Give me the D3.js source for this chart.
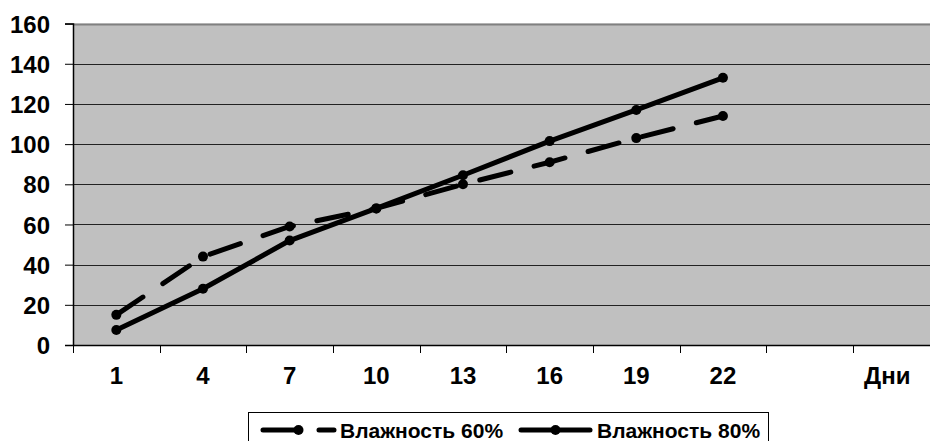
<!DOCTYPE html>
<html>
<head>
<meta charset="utf-8">
<script src="https://cdn.jsdelivr.net/npm/d3@7/dist/d3.min.js"></script>
<style>
  body { margin: 0; background: #fff; }
  svg { display: block; }
  text { font-family: "Liberation Sans", Arial, sans-serif; font-weight: bold; fill: #000; }
</style>
</head>
<body>
<svg width="930" height="441"></svg>
<script>
const width = 930;
const height = 441;

// categories on the x axis (last two are the empty slot and the axis title)
const days = ["1", "4", "7", "10", "13", "16", "19", "22", "", "Дни"];
const seriesNames = ["Влажность 60%", "Влажность 80%"];
const humidity60 = [15, 44, 59, 68, 80, 91, 103, 114];
const humidity80 = [7.5, 28, 52, 68, 84.5, 101.5, 117, 133];
const yTicks = [0, 20, 40, 60, 80, 100, 120, 140, 160];

const svg = d3.select("svg");

const plotLeft = 73;
const plotTop = 23.6;
const plotBottom = 345;
const bandW = 86.66;

const x = d3
  .scaleBand()
  .domain(days)
  .range([plotLeft, plotLeft + bandW * days.length]);

const y = d3.scaleLinear().domain([0, 160]).range([plotBottom, plotTop]);

// plot background
svg
  .append("rect")
  .attr("x", plotLeft)
  .attr("y", plotTop)
  .attr("width", x.range()[1] - plotLeft)
  .attr("height", plotBottom - plotTop)
  .attr("fill", "#c0c0c0");

// gridlines
svg
  .append("g")
  .selectAll("line")
  .data(yTicks.slice(1))
  .enter()
  .append("line")
  .attr("x1", plotLeft)
  .attr("x2", x.range()[1])
  .attr("y1", (d) => Math.round(y(d)) + 0.5)
  .attr("y2", (d) => Math.round(y(d)) + 0.5)
  .attr("stroke", (d) => (d === 160 ? "#808080" : "#222"))
  .attr("stroke-width", (d) => (d === 160 ? 2 : 1));

// y axis
const yAxis = svg
  .append("g")
  .attr("transform", `translate(${plotLeft},0)`)
  .call(d3.axisLeft(y).tickValues(yTicks).tickSize(8).tickPadding(15));
yAxis.select(".domain").attr("stroke", "#000").attr("stroke-width", 1.5);
yAxis.selectAll(".tick line").attr("stroke", "#000");
yAxis.selectAll("text").style("font-size", "24px").attr("fill", "#000").attr("dy", "0.36em");

// x axis: labels at band centers, ticks at band edges
const xAxis = svg
  .append("g")
  .attr("transform", `translate(0,${plotBottom})`)
  .call(d3.axisBottom(x).tickSize(0).tickPadding(39));
xAxis.select(".domain").attr("stroke", "#000").attr("stroke-width", 1.5);
xAxis.selectAll("text").style("font-size", "24px").attr("fill", "#000").attr("dy", 0);
xAxis
  .selectAll(".tick")
  .filter((d) => d === "Дни")
  .select("text")
  .attr("dx", -9);

svg
  .append("g")
  .selectAll("line")
  .data(days)
  .enter()
  .append("line")
  .attr("x1", (d) => Math.round(x(d)) + 0.5)
  .attr("x2", (d) => Math.round(x(d)) + 0.5)
  .attr("y1", plotBottom)
  .attr("y2", plotBottom + 8)
  .attr("stroke", "#000");

const line = d3
  .line()
  .x((d, i) => x(days[i]) + x.bandwidth() / 2)
  .y((d) => y(d));

const series = [
  { name: seriesNames[0], values: humidity60, dash: "32,24" },
  { name: seriesNames[1], values: humidity80, dash: null },
];

series.forEach((s) => {
  svg
    .append("path")
    .datum(s.values)
    .attr("d", line)
    .attr("fill", "none")
    .attr("stroke", "#000")
    .attr("stroke-width", 5)
    .attr("stroke-linecap", "round")
    .attr("stroke-linejoin", "round")
    .attr("stroke-dasharray", s.dash);

  svg
    .append("g")
    .selectAll("circle")
    .data(s.values)
    .enter()
    .append("circle")
    .attr("cx", (d, i) => x(days[i]) + x.bandwidth() / 2)
    .attr("cy", (d) => y(d))
    .attr("r", 5)
    .attr("fill", "#000");
});

// legend
const legend = svg.append("g");
legend
  .append("rect")
  .attr("x", 248.5)
  .attr("y", 412.5)
  .attr("width", 520)
  .attr("height", 40)
  .attr("fill", "#fff")
  .attr("stroke", "#000");

const legendItems = [
  { x0: 263, x1: 334, dash: "32,24", textX: 340 },
  { x0: 521, x1: 590, dash: null, textX: 597 },
];

legendItems.forEach((it, i) => {
  legend
    .append("line")
    .attr("x1", it.x0)
    .attr("x2", it.x1)
    .attr("y1", 430)
    .attr("y2", 430)
    .attr("stroke", "#000")
    .attr("stroke-width", 5)
    .attr("stroke-linecap", "round")
    .attr("stroke-dasharray", it.dash);
  legend
    .append("circle")
    .attr("cx", (it.x0 + it.x1) / 2)
    .attr("cy", 430)
    .attr("r", 5)
    .attr("fill", "#000");
  legend
    .append("text")
    .attr("x", it.textX)
    .attr("y", 437.5)
    .style("font-size", "21px")
    .text(seriesNames[i]);
});
</script>
</body>
</html>
